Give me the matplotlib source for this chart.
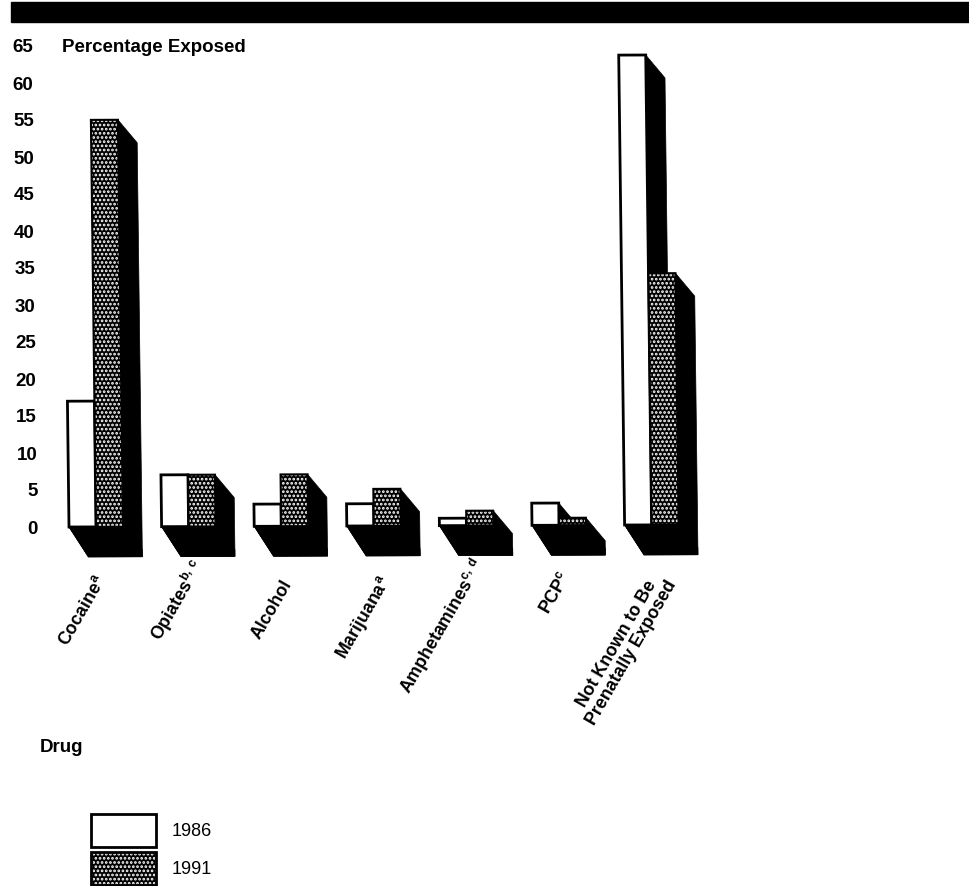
import matplotlib
matplotlib.use("Agg")
import matplotlib.pyplot as plt
from matplotlib.legend_handler import HandlerTuple
from matplotlib.patches import Patch
from matplotlib.transforms import Affine2D

plt.rcParams['font.family'] = ['Liberation Sans', 'DejaVu Sans']
plt.rcParams['mathtext.fontset'] = 'custom'
plt.rcParams['mathtext.bf'] = 'Liberation Sans:bold'
plt.rcParams['hatch.linewidth'] = 1.3

drugs = ['Cocaine$^{\\mathbf{a}}$', 'Opiates$^{\\mathbf{b,\\,c}}$', 'Alcohol',
         'Marijuana$^{\\mathbf{a}}$', 'Amphetamines$^{\\mathbf{c,\\,d}}$', 'PCP$^{\\mathbf{c}}$',
         'Not Known to Be\nPrenatally Exposed']
values_1986 = [17, 7, 3, 3, 1, 3, 63.5]
values_1991 = [55, 7, 7, 5, 2, 1, 34]
yticks = list(range(0, 70, 5))

# where each rotated label ends, in pixels from the top left
label_ends = [(102, 577), (200, 562), (288, 581), (387, 578), (480, 561), (567, 573), (665, 577)]

WIDTH, HEIGHT = 969, 886
X0, Y0 = 69, 527        # pixel position of group 0, value 0
X_STEP, Y_STEP = 92.6, 7.4

bar_w = 27 / X_STEP
depth_x = 19 / X_STEP
depth_y = 23 / Y_STEP
floor_y = 30 / Y_STEP
DOTS = '....'


def px(x, y):
    return (x - X0) / X_STEP, (Y0 - y) / Y_STEP


fig = plt.figure(figsize=(WIDTH / 100, HEIGHT / 100), dpi=100)
ax = fig.add_axes([0, 0, 1, 1])
ax.set_xlim(-X0 / X_STEP, (WIDTH - X0) / X_STEP)
ax.set_ylim((Y0 - HEIGHT) / Y_STEP, Y0 / Y_STEP)
for side in ax.spines.values():
    side.set_visible(False)

# the page scan leans a little, bars follow it
lean = Affine2D.from_values(1, 0.045, -0.001, 1, 0, 0) + ax.transData

# black extrusion behind every bar, then a floor under the group
for i in range(len(drugs)):
    group_r = i + 2 * bar_w + depth_x
    ax.fill([i, group_r - depth_x, group_r, group_r, i + depth_x],
            [0, 0, -depth_y, -floor_y, -floor_y],
            color='black', lw=0.5, transform=lean, zorder=1)
    for j, v in enumerate([values_1986[i], values_1991[i]]):
        xl = i + j * bar_w
        xr = xl + bar_w
        ax.fill([xl, xr, xr + depth_x, xr + depth_x, xl + depth_x, xl],
                [v, v, v - depth_y, -floor_y, -floor_y, 0],
                color='black', lw=0.5, transform=lean, zorder=1)

xs = list(range(len(drugs)))
ax.bar(xs, values_1986, width=bar_w, align='edge', facecolor='white',
       edgecolor='black', linewidth=2, transform=lean, zorder=2)
ax.bar([x + bar_w for x in xs], values_1991, width=bar_w, align='edge', facecolor='black',
       edgecolor='white', hatch=DOTS, linewidth=0, transform=lean, zorder=2)
ax.bar([x + bar_w for x in xs], values_1991, width=bar_w, align='edge', fill=False,
       edgecolor='black', linewidth=1.5, transform=lean, zorder=3)

ax.set_xticks([])
ax.set_yticks(yticks)
ax.set_yticklabels([str(v) for v in yticks], fontsize=13.5, fontweight='bold')
ax.tick_params(axis='y', length=0, pad=-23.8)
for lab, v in zip(ax.get_yticklabels(), yticks):
    lab.set_x(5 * (65 - v) / 65 / WIDTH)

for name, end in zip(drugs, label_ends):
    x, y = px(*end)
    ax.text(x, y, name, rotation=60, rotation_mode='anchor', ha='right', va='center',
            multialignment='center', fontsize=12.8, fontweight='bold', linespacing=1.05)

x, y = px(62, 47)
ax.text(x, y, 'Percentage Exposed', fontsize=13.5, fontweight='bold', va='center')
x, y = px(40, 748)
ax.text(x, y, 'Drug', fontsize=13.5, fontweight='bold', va='center')

# header band
fig.add_artist(plt.Rectangle((11 / WIDTH, 1 - 22 / HEIGHT), 1, 20 / HEIGHT,
                             color='black', transform=fig.transFigure))

handles = [Patch(facecolor='white', edgecolor='black', linewidth=2),
           (Patch(facecolor='black', edgecolor='white', hatch=DOTS, linewidth=0),
            Patch(fill=False, edgecolor='black', linewidth=2))]
ax.legend(handles=handles, labels=['1986', '1991'], loc='lower left',
          bbox_to_anchor=(91 / WIDTH, 1 / HEIGHT),
          handler_map={tuple: HandlerTuple(ndivide=1, pad=0)},
          frameon=False, fontsize=13, borderpad=0, borderaxespad=0,
          handlelength=3.6, handleheight=2.43, labelspacing=0.3, handletextpad=0.85)

fig.savefig('out.png', dpi=100)
